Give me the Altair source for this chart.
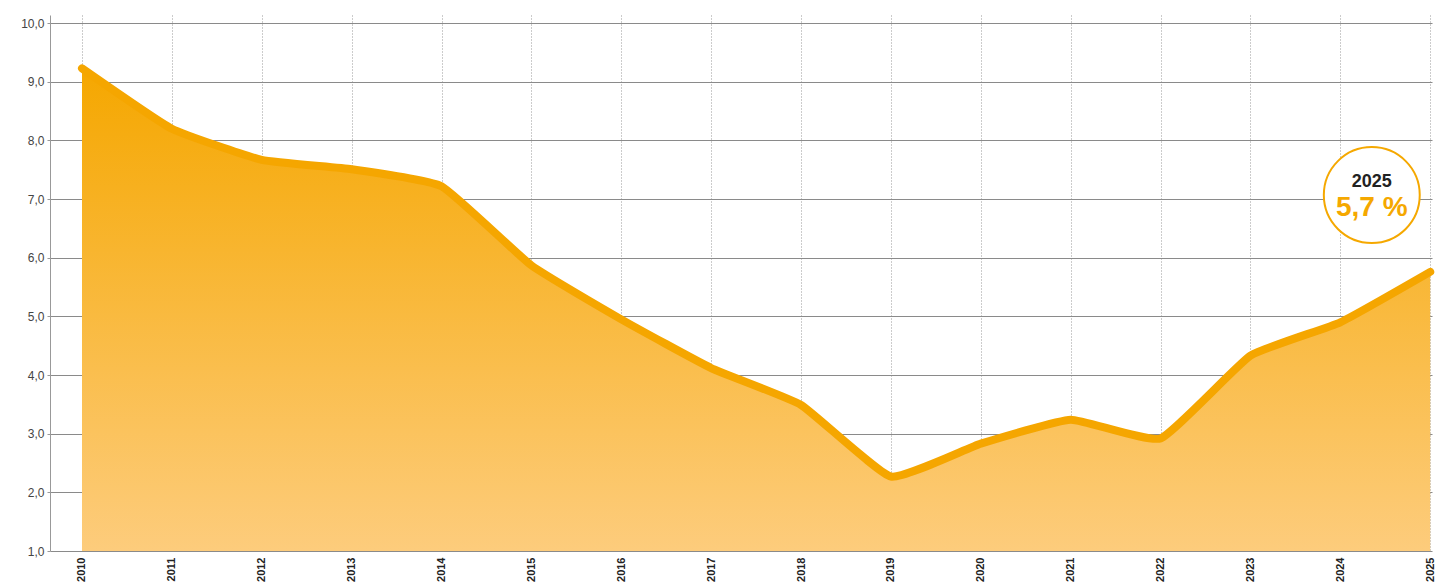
import altair as alt
import pandas as pd

years = list(range(2010, 2026))
values = [9.23, 8.20, 7.67, 7.51, 7.22, 5.87, 4.95, 4.12, 3.49, 2.27, 2.83, 3.24, 2.92, 4.33, 4.90, 5.76]

ann_year = [2024.35]
ann_circle_y = [7.07]
ann_label_top = ["2025"]
ann_label_top_y = [7.29]
ann_label_main = ["5,7 %"]
ann_label_main_y = [6.85]

y_ticks = [1, 2, 3, 4, 5, 6, 7, 8, 9, 10]

ORANGE = "#F5A600"

df = pd.DataFrame({"year": years, "value": values})
ann = pd.DataFrame({
    "year": ann_year,
    "cy": ann_circle_y,
    "t1": ann_label_top,
    "t1y": ann_label_top_y,
    "t2": ann_label_main,
    "t2y": ann_label_main_y,
})

xscale = alt.Scale(domain=[2009.644, 2025.02], nice=False, zero=False)
yscale = alt.Scale(domain=[1, 10.14], nice=False, zero=False)

x_enc = alt.X(
    "year:Q",
    scale=xscale,
    axis=alt.Axis(
        values=years,
        labelExpr="format(datum.value, 'd')",
        labelAngle=270,
        labelFontWeight="bold",
        labelFontSize=11,
        labelColor="#222222",
        labelFont="Liberation Sans",
        labelPadding=6,
        domain=False,
        ticks=False,
        grid=True,
        gridDash=[1, 2],
        gridColor="#999999",
        gridWidth=1,
        title=None,
    ),
)
y_enc = alt.Y(
    "value:Q",
    scale=yscale,
    axis=alt.Axis(
        values=y_ticks,
        labelExpr="replace(format(datum.value, '.1f'), '.', ',')",
        labelFontSize=12,
        labelColor="#444444",
        labelFont="Liberation Sans",
        labelPadding=3,
        tickSize=3,
        tickColor="#999999",
        domainColor="#999999",
        grid=True,
        gridColor="#8a8a8a",
        gridWidth=1,
        title=None,
    ),
)

base = alt.Chart(df)

area = base.mark_area(
    interpolate="cardinal",
    tension=0.6,
    color=alt.Gradient(
        gradient="linear",
        stops=[
            alt.GradientStop(color="#FDCC7C", offset=0),
            alt.GradientStop(color="#F5A700", offset=1),
        ],
        x1=1, x2=1, y1=1, y2=0,
    ),
).encode(x=x_enc, y=y_enc, y2=alt.datum(1))

line = base.mark_line(
    interpolate="cardinal",
    tension=0.6,
    color=ORANGE,
    strokeWidth=8,
    strokeCap="round",
    strokeJoin="round",
).encode(x="year:Q", y="value:Q")

circle = alt.Chart(ann).mark_point(
    shape="circle",
    filled=True,
    fill="white",
    fillOpacity=1,
    stroke="#F5A800",
    strokeWidth=2,
    strokeOpacity=1,
    size=9200,
).encode(x="year:Q", y=alt.Y("cy:Q"))

t1 = alt.Chart(ann).mark_text(
    font="Liberation Sans",
    fontWeight="bold",
    fontSize=18,
    color="#222222",
    baseline="middle",
    align="center",
).encode(x="year:Q", y="t1y:Q", text="t1:N")

t2 = alt.Chart(ann).mark_text(
    font="Liberation Sans",
    fontWeight="bold",
    fontSize=28,
    color="#F5A800",
    baseline="middle",
    align="center",
).encode(x="year:Q", y="t2y:Q", text="t2:N")

chart = alt.layer(area, line, circle, t1, t2).properties(
    width=1382,
    height=536,
    autosize=alt.AutoSizeParams(type="none"),
    padding={"left": 42, "top": 7, "right": 3, "bottom": 34},
).configure_view(strokeWidth=0)

chart.save("out.html", embed_options={"renderer": "svg", "actions": False})
